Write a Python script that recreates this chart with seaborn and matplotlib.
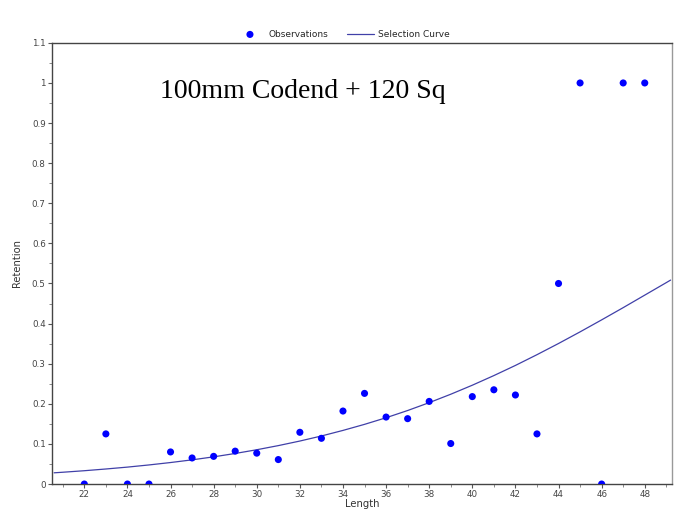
import matplotlib
matplotlib.use("Agg")
import matplotlib.pyplot as plt
from matplotlib.ticker import MultipleLocator, FuncFormatter
import pandas as pd
import seaborn as sns

# Observed retention by length class
lengths = [22, 23, 24, 25, 26, 27, 28, 29, 30, 31, 32, 33, 34, 35,
           36, 37, 38, 39, 40, 41, 42, 43, 44, 45, 46, 47, 48]
retention = [0.0, 0.125, 0.0, 0.0, 0.080, 0.065, 0.069, 0.082, 0.077, 0.061,
             0.129, 0.114, 0.182, 0.226, 0.167, 0.163, 0.206, 0.101, 0.218,
             0.235, 0.222, 0.125, 0.500, 1.0, 0.0, 1.0, 1.0]

# Fitted selection curve
curve_length = [20.6, 21, 22, 23, 24, 25, 26, 27, 28, 29, 30, 31, 32, 33, 34,
                35, 36, 37, 38, 39, 40, 41, 42, 43, 44, 45, 46, 47, 48, 49, 49.2]
curve_retention = [0.0280, 0.0294, 0.0332, 0.0375, 0.0422, 0.0476, 0.0536,
                   0.0603, 0.0678, 0.0762, 0.0855, 0.0958, 0.1072, 0.1198,
                   0.1337, 0.1488, 0.1653, 0.1833, 0.2029, 0.2239, 0.2464,
                   0.2704, 0.2957, 0.3225, 0.3504, 0.3794, 0.4093, 0.4398,
                   0.4710, 0.5022, 0.5085]

obs = pd.DataFrame({"Length": lengths, "Retention": retention})
fit = pd.DataFrame({"Length": curve_length, "Retention": curve_retention})

sns.set_theme(style="white")
plt.rcParams["font.family"] = ["DejaVu Sans"]

fig = plt.figure(figsize=(6.84, 5.29), dpi=100)
ax = fig.add_axes([0.076, 0.085, 0.906, 0.834])

sns.lineplot(data=fit, x="Length", y="Retention", ax=ax, color="#4040a8",
             linewidth=0.9, label="Selection Curve", sort=False)
sns.scatterplot(data=obs, x="Length", y="Retention", ax=ax, color="#0000ff",
                s=26, edgecolor="none", label="Observations", zorder=3)

ax.set_xlim(20.5, 49.25)
ax.set_ylim(0, 1.1)
ax.xaxis.set_major_locator(MultipleLocator(2))
ax.xaxis.set_minor_locator(MultipleLocator(1))
ax.yaxis.set_major_locator(MultipleLocator(0.1))
ax.yaxis.set_minor_locator(MultipleLocator(0.05))
ax.yaxis.set_major_formatter(FuncFormatter(
    lambda v, p: "0" if abs(v) < 1e-9 else ("1" if abs(v - 1) < 1e-9 else f"{v:.1f}")))

ax.tick_params(which="major", direction="out", length=3, width=0.8,
               color="#555555", labelsize=6.3, labelcolor="#444444",
               bottom=True, left=True, pad=1.5)
ax.tick_params(which="minor", direction="out", length=2, width=0.6,
               color="#777777", bottom=True, left=True)

for side in ["left", "bottom", "top"]:
    ax.spines[side].set_color("#444444")
    ax.spines[side].set_linewidth(1.0)
ax.spines["right"].set_color("#999999")
ax.spines["right"].set_linewidth(1.0)

ax.set_xlabel("Length", fontsize=7.2, color="#333333", labelpad=0)
ax.set_ylabel("Retention", fontsize=7.2, color="#333333", labelpad=7)

ax.text(0.174, 0.89, "100mm Codend + 120 Sq", transform=ax.transAxes,
        fontsize=20, family="Liberation Serif", color="#000000", va="center")

handles, labels = ax.get_legend_handles_labels()
order = [labels.index("Observations"), labels.index("Selection Curve")]
ax.legend([handles[i] for i in order], [labels[i] for i in order],
          loc="lower center", bbox_to_anchor=(0.470, 1.0), ncol=2, frameon=False,
          fontsize=6.5, handlelength=3.0, columnspacing=2.1, handletextpad=0.5,
          borderaxespad=0.05)

fig.savefig("out.png", dpi=100)
